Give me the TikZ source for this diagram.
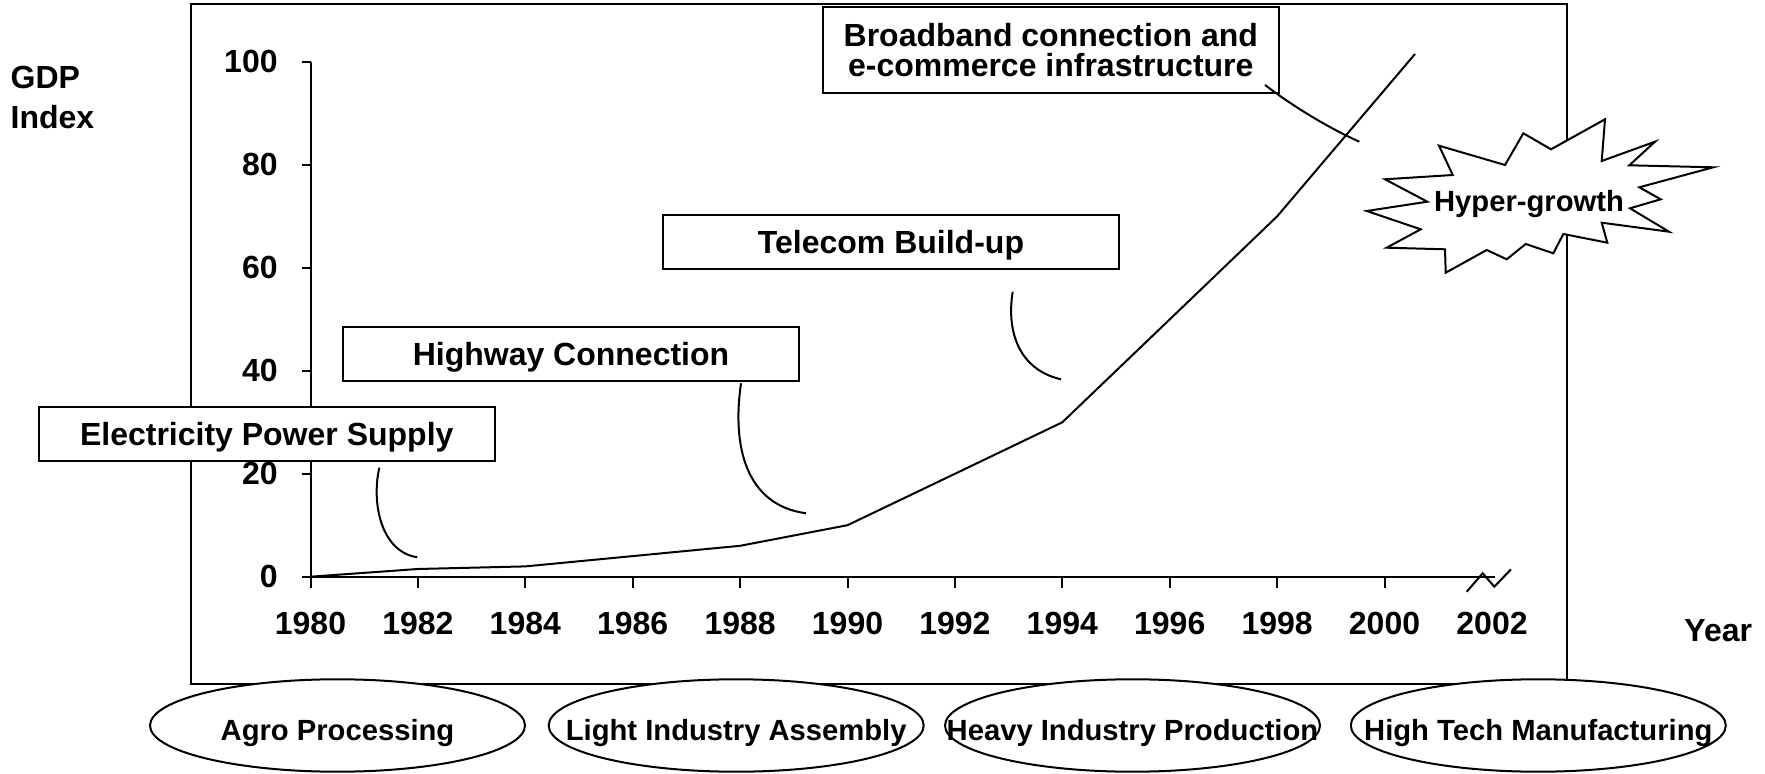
\documentclass[tikz,border=0pt]{standalone}
\usepackage{fontspec}
\setmainfont{Liberation Sans}
\usetikzlibrary{shapes.geometric}

% text placed with its baseline a given distance below the node centre,
% taking no room so that the shape keeps its own size
\newcommand\sunk[2]{\makebox[0pt]{\raisebox{-#1}[0pt][0pt]{#2}}}

\tikzset{
  big/.style={font=\fontsize{16}{18.35}\selectfont\bfseries},
  mid/.style={font=\fontsize{14.6}{17}\selectfont\bfseries},
  thin line/.style={line width=1pt},
  ticklab/.style={big, inner sep=0pt},
  callbox/.style={big, draw, fill=white, line width=1pt, rectangle,
    minimum width=228pt, minimum height=27pt, inner sep=0pt,
    text height=11.46pt, text depth=0pt},
  stage/.style={mid, draw, fill=white, ellipse, line width=1pt,
    minimum width=187.5pt, minimum height=46.2pt, inner sep=0pt},
  leader/.style={line width=1pt},
  burst/.style={draw, fill=white, line width=1pt, line join=miter},
}

\begin{document}
\begin{tikzpicture}[x=0.5pt, y=-0.5pt, line cap=butt]
\useasboundingbox (0,0) rectangle (1765,774);

% chart frame
\draw[thin line] (190.5,4.5) rectangle (1566.7,683.5);

% axes
\draw[thin line] (310.5,62) -- (310.5,588);
\draw[thin line] (310.5,576.7) -- (1495,576.7);
\foreach \v in {0,20,40,60,80,100}{
  \draw[thin line] (301.5,576.7-5.147*\v) -- (310.5,576.7-5.147*\v);
  \node[ticklab, anchor=base east] (ylab\v) at (278,587.4-5.147*\v) {\v};
}
\foreach \i in {0,...,10}{
  \pgfmathtruncatemacro\yr{1980+2*\i}
  \draw[thin line] (310.5+107.4*\i,576.7) -- (310.5+107.4*\i,588);
  \node[ticklab, anchor=base] (xlab\yr) at (310.5+107.4*\i,634.5) {\yr};
}
\node[ticklab, anchor=base] (xlab2002) at (1492,634.5) {2002};

% axis break mark
\draw[thin line] (1466.7,591.7) -- (1482.7,573.3) -- (1494.3,586.7) -- (1511,569.3);

% axis titles
\node[ticklab, anchor=base west] (gdp) at (10.3,88.3) {GDP};
\node[ticklab, anchor=base west] (index) at (10.3,128.3) {Index};
\node[ticklab, anchor=base west] (year) at (1684,641.7) {Year};

% GDP index curve
\draw[thin line, line join=round]
  (310.5,576.7) -- (417.9,569.0) -- (525.3,566.4) -- (632.7,556.1)
  -- (740.1,545.8) -- (847.5,525.2) -- (954.9,473.8) -- (1062.3,422.3)
  -- (1169.7,319.4) -- (1277.1,216.4) -- (1415,54);

% leader lines from the infrastructure boxes to the curve
\coordinate (elecFrom) at (379.3,467.7);
\coordinate (elecTo)   at (417.3,557.3);
\coordinate (hwyFrom)  at (741,383.3);
\coordinate (hwyTo)    at (806,513.3);
\coordinate (telFrom)  at (1012.7,291.7);
\coordinate (telTo)    at (1061,379.3);
\coordinate (bbFrom)   at (1265,85);
\coordinate (bbTo)     at (1359.3,141.7);
\draw[leader] (elecFrom) .. controls (371,505) and (382,552) .. (elecTo);
\draw[leader] (hwyFrom) .. controls (732,445) and (745,505) .. (hwyTo);
\draw[leader] (telFrom) .. controls (1006,333) and (1020,370) .. (telTo);

% infrastructure boxes
\node[callbox] (elec) at (266.75,434.5) {Electricity Power Supply};
\node[callbox] (hwy)  at (571,354.25) {Highway Connection};
\node[callbox] (tel)  at (891,242) {Telecom Build-up};
\node[callbox, minimum height=43pt] (bb) at (1050.85,49.7) {};
\node[font=\fontsize{16}{15}\selectfont\bfseries, align=center, anchor=north,
  inner sep=0pt] (bbtext) at (1050.8,23.3)
  {Broadband connection and\\e-commerce infrastructure};
\draw[leader] (bbFrom) .. controls (1295,107.8) and (1329.3,128.2) .. (bbTo);

% hyper-growth burst
\draw[burst]
  (1523.3,133.3) -- (1551,149.3) -- (1605,119.3) -- (1601.7,161)
  -- (1655,141.7) -- (1629.3,165.3) -- (1713.3,167.3) -- (1639.3,187.3)
  -- (1660.7,199.3) -- (1630,208.3) -- (1669,231.7) -- (1601.7,222.7)
  -- (1607.3,242.7) -- (1563.3,234) -- (1553.3,253.3) -- (1525.7,244)
  -- (1506.7,259.3) -- (1486.7,250) -- (1445.7,272.7) -- (1445,249.3)
  -- (1386.7,247.7) -- (1420.7,229.3) -- (1366.7,211) -- (1427.3,201.7)
  -- (1385,179.3) -- (1452.7,175) -- (1439,145.7) -- (1505,165) -- cycle;
\node[mid, anchor=base, inner sep=0pt] (hyper) at (1529,211.7) {Hyper-growth};

% industrial stages
\node[stage] (agro)  at (337.5,725.5)  {\sunk{7.4pt}{Agro Processing}};
\node[stage] (light) at (736.2,725.5)  {\sunk{7.4pt}{Light Industry Assembly}};
\node[stage] (heavy) at (1132.5,725.5) {\sunk{7.4pt}{Heavy Industry Production}};
\node[stage] (tech)  at (1538.3,725.5) {\sunk{7.4pt}{High Tech Manufacturing}};
\end{tikzpicture}
\end{document}
